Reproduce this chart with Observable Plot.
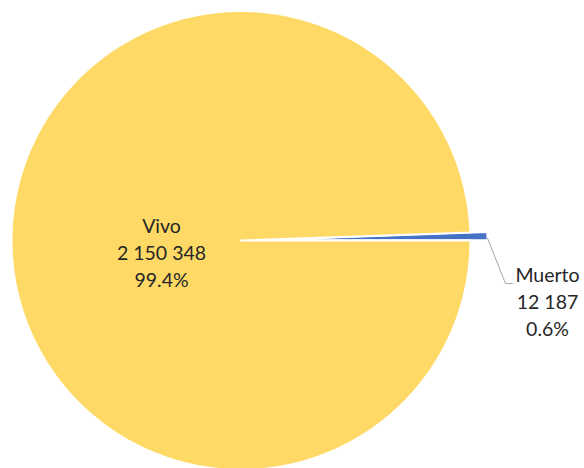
<!DOCTYPE html>
<html><head><meta charset="utf-8">
<script src="https://cdn.jsdelivr.net/npm/d3@7"></script>
<script src="https://cdn.jsdelivr.net/npm/@observablehq/plot@0.6"></script>
<style>html,body{margin:0;padding:0;background:#fff;}</style>
</head><body><div id="chart"></div>
<script>
// ---- data ----
const categories = ["Vivo", "Muerto"];
const values = [2150348, 12187];

// ---- layout (pixels converted to data units where radius = 1) ----
const W = 584, H = 468, CX = 240.5, CY = 240, R = 229.5;
const colors = ["#FFD966", "#4472C4"];
const explodePx = [0, 17];
const drawOrder = [1, 0];           // Muerto starts at 3 o'clock, going counter-clockwise
const labelPx = [[161, 251], [547, 300]];   // centre of each label block
const leaderElbowPx = [[505, 283], [512, 283]]; // for Muerto's leader line
const fontFamily = "Lato, 'Liberation Sans', sans-serif";

const toX = px => (px - CX) / R;
const toY = py => (CY - py) / R;

const locale = d3.formatLocale({decimal: ".", thousands: " ", grouping: [3], currency: ["", ""]});
const fmtNum = locale.format(",");
const fmtPct = d3.format(".1%");
const total = d3.sum(values);

// slices
const slicePts = [];
const sliceInfo = [];
let acc = 0;
for (const i of drawOrder) {
  const a0 = acc / total * 2 * Math.PI;
  acc += values[i];
  const a1 = acc / total * 2 * Math.PI;
  const mid = (a0 + a1) / 2;
  const off = explodePx[i] / R;
  const ox = off * Math.cos(mid), oy = off * Math.sin(mid);
  sliceInfo[i] = {mid, ox, oy};
  const n = Math.max(4, Math.ceil((a1 - a0) / (Math.PI / 360)));
  let k = 0;
  slicePts.push({cat: categories[i], x: ox, y: oy, k: k++});
  for (let j = 0; j <= n; j++) {
    const a = a0 + (a1 - a0) * j / n;
    slicePts.push({cat: categories[i], x: ox + Math.cos(a), y: oy + Math.sin(a), k: k++});
  }
  slicePts.push({cat: categories[i], x: ox, y: oy, k: k++});
}

// labels
const labels = categories.map((c, i) => ({
  cat: c,
  text: `${c}\n${fmtNum(values[i])}\n${fmtPct(values[i] / total)}`,
  x: toX(labelPx[i][0]), y: toY(labelPx[i][1])
}));

// leader line for Muerto (index 1)
const m = sliceInfo[1];
const leader = [
  {x: m.ox + Math.cos(m.mid), y: m.oy + Math.sin(m.mid) - 2 / R},
  {x: toX(leaderElbowPx[0][0]), y: toY(leaderElbowPx[0][1])},
  {x: toX(leaderElbowPx[1][0]), y: toY(leaderElbowPx[1][1])}
];

const chart = Plot.plot({
  width: W, height: H,
  margin: 0, inset: 0,
  x: {domain: [toX(0), toX(W)], axis: null},
  y: {domain: [toY(H), toY(0)], axis: null},
  color: {domain: categories, range: colors},
  style: {background: "#fff", fontFamily},
  marks: [
    Plot.line(slicePts, {x: "x", y: "y", z: "cat", fill: "cat", stroke: "#fff", strokeWidth: 2, strokeLinejoin: "round", curve: "linear", sort: {channel: null}}),
    Plot.line(leader, {x: "x", y: "y", stroke: "#A6A6A6", strokeWidth: 1}),
    Plot.text(labels, {x: "x", y: "y", text: "text", fontSize: 19.5, lineHeight: 1.36, fill: "#262626", fontFamily, textAnchor: "middle", lineAnchor: "middle"})
  ]
});
document.getElementById("chart").appendChild(chart);
</script>
</body></html>
